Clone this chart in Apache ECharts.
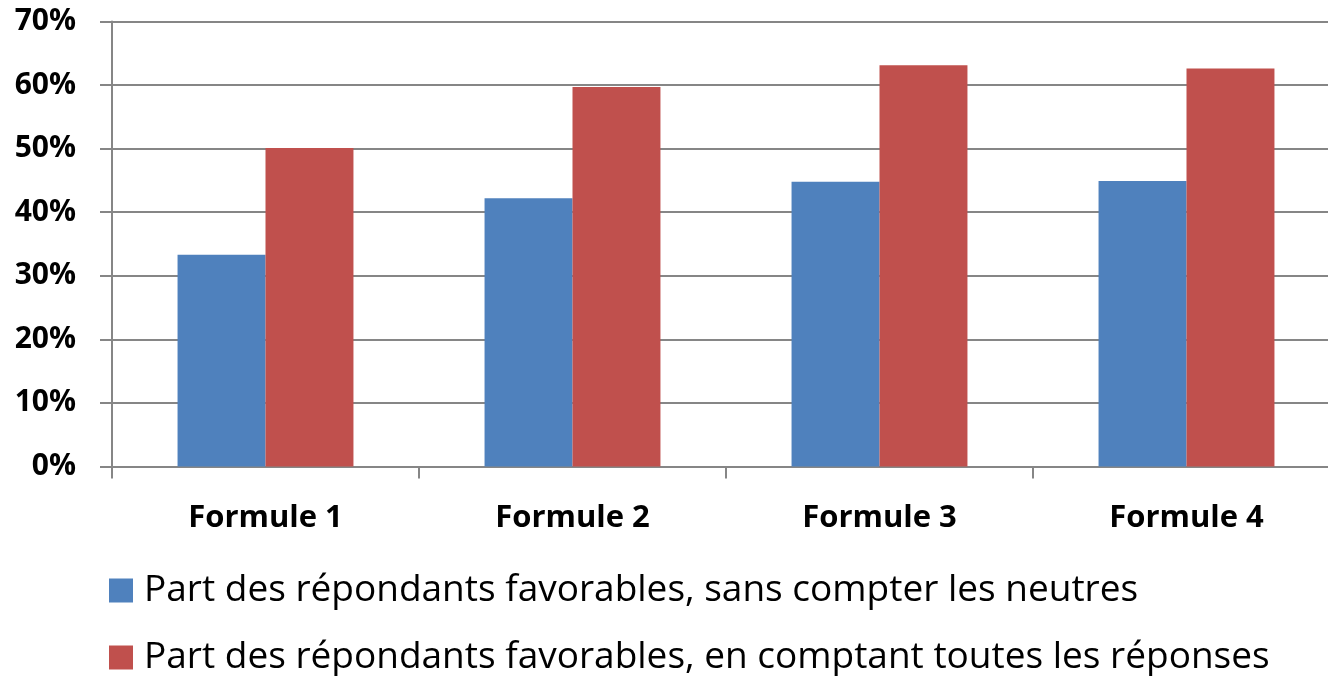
<!DOCTYPE html>
<html>
<head>
<meta charset="utf-8">
<script src="https://cdn.jsdelivr.net/npm/echarts@6/dist/echarts.min.js"></script>
<style>
  html, body { margin: 0; padding: 0; background: #fff; overflow: hidden; }
  #chart { width: 1340px; height: 676px; }
</style>
</head>
<body>
<div id="chart"></div>
<script>
const categories = ['Formule 1', 'Formule 2', 'Formule 3', 'Formule 4'];
const seriesNames = [
  'Part des répondants favorables, sans compter les neutres',
  'Part des répondants favorables, en comptant toutes les réponses'
];
const sansNeutres = [33.3, 42.2, 44.8, 44.9];
const toutesReponses = [50.1, 59.7, 63.1, 62.6];
const yTicks = [0, 10, 20, 30, 40, 50, 60, 70];

const axisGray = '#868686';
const font = '"Open Sans", "Noto Sans", sans-serif';

const legendText = { color: '#000', fontFamily: font, fontSize: 37, padding: [0, 0, 0, 6] };

const chart = echarts.init(document.getElementById('chart'), null, { renderer: 'canvas' });
chart.setOption({
  animation: false,
  grid: { left: 112, right: 0, top: 21.5, bottom: 209.5, containLabel: false },
  xAxis: {
    type: 'category',
    data: categories,
    axisLine: { lineStyle: { color: axisGray, width: 2 } },
    axisTick: { show: true, length: 12, lineStyle: { color: axisGray, width: 2 } },
    axisLabel: { color: '#000', fontFamily: font, fontWeight: 'bold', fontSize: 31, margin: 36 }
  },
  yAxis: {
    type: 'value',
    min: yTicks[0],
    max: yTicks[yTicks.length - 1],
    interval: 10,
    axisLine: { show: true, lineStyle: { color: axisGray, width: 2 } },
    axisTick: { show: true, length: 12, lineStyle: { color: axisGray, width: 2 } },
    splitLine: { lineStyle: { color: axisGray, width: 2 } },
    axisLabel: {
      color: '#000', fontFamily: font, fontWeight: 'bold', fontSize: 30, margin: 36,
      formatter: v => v + '%'
    }
  },
  legend: [
    {
      left: 104, top: 567, itemWidth: 24, itemHeight: 24, icon: 'rect',
      textStyle: legendText, data: [seriesNames[0]]
    },
    {
      left: 104, top: 634, itemWidth: 24, itemHeight: 24, icon: 'rect',
      textStyle: legendText, data: [seriesNames[1]]
    }
  ],
  series: [
    {
      name: seriesNames[0], type: 'bar', data: sansNeutres,
      barGap: '0%', barCategoryGap: '42.7%',
      itemStyle: { color: '#4F81BD' }
    },
    {
      name: seriesNames[1], type: 'bar', data: toutesReponses,
      itemStyle: { color: '#C0504D' }
    }
  ]
});
</script>
</body>
</html>
